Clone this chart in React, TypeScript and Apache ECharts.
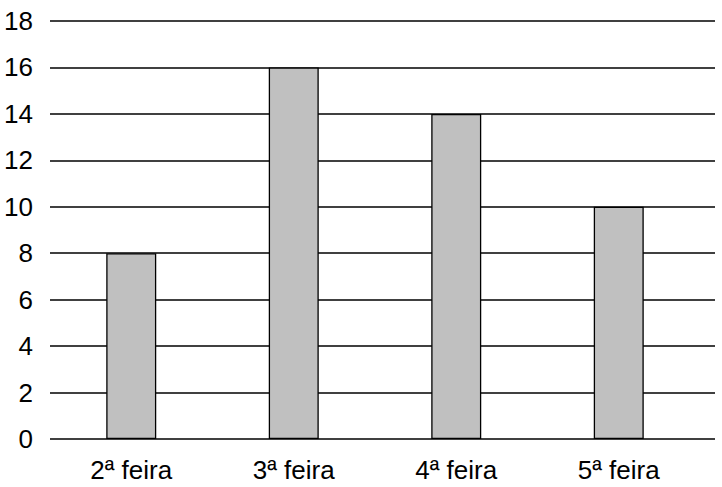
import React, { useEffect, useRef } from "react";
import * as echarts from "echarts";

const categories = ["2ª feira", "3ª feira", "4ª feira", "5ª feira"];
const values = [8, 16, 14, 10];
const yMin = 0;
const yMax = 18;
const yStep = 2;

export default function App() {
  const ref = useRef<HTMLDivElement>(null);
  useEffect(() => {
    if (!ref.current) return;
    const chart = echarts.init(ref.current, undefined, { renderer: "svg" });
    const font = "'Liberation Sans', Arial, sans-serif";
    chart.setOption({
      animation: false,
      backgroundColor: "#ffffff",
      grid: [
        { left: 50, right: 7, top: 21, bottom: 48 },
        { left: 50, right: 22, top: 21, bottom: 48 },
      ],
      xAxis: [
        {
          type: "category",
          gridIndex: 0,
          data: categories,
          show: false,
        },
        {
          type: "category",
          gridIndex: 1,
          data: categories,
          axisLine: { show: false },
          axisTick: { show: false },
          axisLabel: {
            color: "#000",
            fontSize: 26,
            fontFamily: font,
            margin: 18,
          },
        },
      ],
      yAxis: [
        {
          type: "value",
          gridIndex: 0,
          min: yMin,
          max: yMax,
          interval: yStep,
          axisLine: { show: false },
          axisTick: { show: false },
          axisLabel: {
            color: "#000",
            fontSize: 26,
            fontFamily: font,
            margin: 17,
          },
          splitLine: { lineStyle: { color: "#000", width: 1.5 } },
        },
        {
          type: "value",
          gridIndex: 1,
          min: yMin,
          max: yMax,
          interval: yStep,
          show: false,
          splitLine: { show: false },
        },
      ],
      series: [
        {
          type: "bar",
          xAxisIndex: 1,
          yAxisIndex: 1,
          data: values,
          barWidth: 50,
          itemStyle: { color: "#c0c0c0", borderColor: "#000", borderWidth: 1.3 },
        },
      ],
    });
    return () => chart.dispose();
  }, []);
  return (
    <div
      ref={ref}
      style={{ position: "fixed", left: 0, top: 0, width: 722, height: 487 }}
    />
  );
}
